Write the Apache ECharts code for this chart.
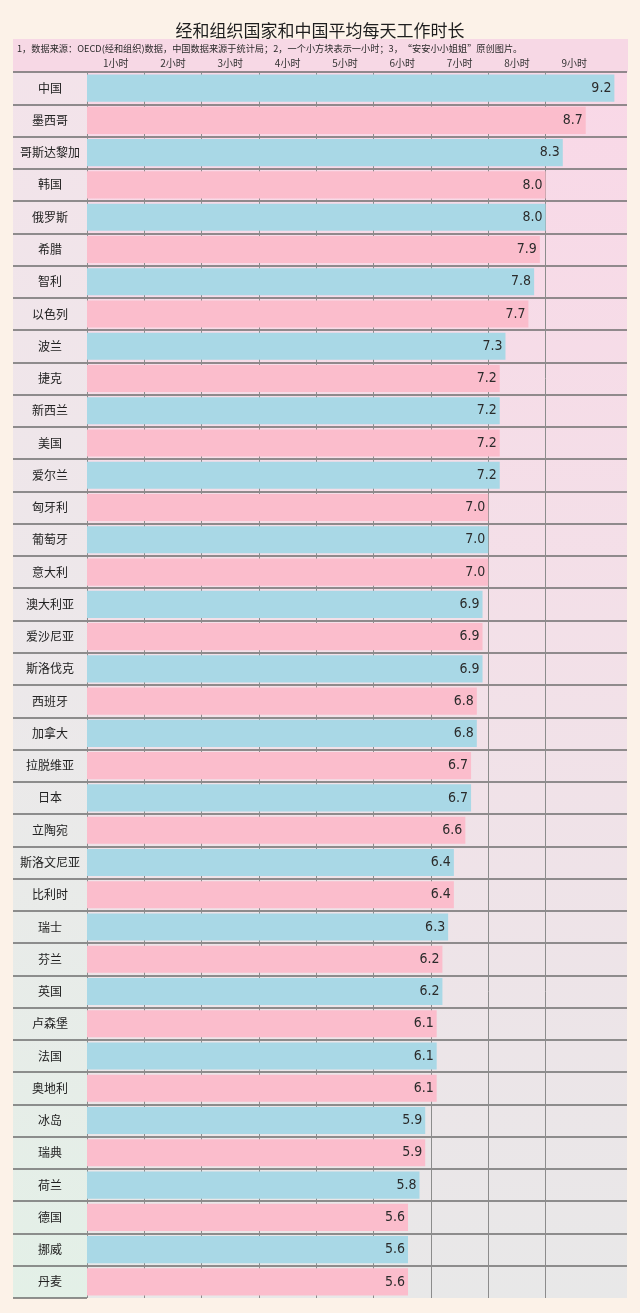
<!DOCTYPE html>
<html>
<head>
<meta charset="utf-8">
<script src="https://cdn.jsdelivr.net/npm/echarts@6/dist/echarts.min.js"></script>
<style>
html,body{margin:0;padding:0;background:#fcf2e8;}
#chart{width:640px;height:1313px;}
</style>
</head>
<body>
<div id="chart"></div>
<script>
const countries = ['中国','墨西哥','哥斯达黎加','韩国','俄罗斯','希腊','智利','以色列','波兰','捷克','新西兰','美国','爱尔兰','匈牙利','葡萄牙','意大利','澳大利亚','爱沙尼亚','斯洛伐克','西班牙','加拿大','拉脱维亚','日本','立陶宛','斯洛文尼亚','比利时','瑞士','芬兰','英国','卢森堡','法国','奥地利','冰岛','瑞典','荷兰','德国','挪威','丹麦'];
const hours = [9.2,8.7,8.3,8.0,8.0,7.9,7.8,7.7,7.3,7.2,7.2,7.2,7.2,7.0,7.0,7.0,6.9,6.9,6.9,6.8,6.8,6.7,6.7,6.6,6.4,6.4,6.3,6.2,6.2,6.1,6.1,6.1,5.9,5.9,5.8,5.6,5.6,5.6];
const hourLabels = ['1小时','2小时','3小时','4小时','5小时','6小时','7小时','8小时','9小时'];
const titleText = '经和组织国家和中国平均每天工作时长';
const noteText = '1，数据来源：OECD(经和组织)数据，中国数据来源于统计局；2，一个小方块表示一小时；3，“安安小小姐姐”原创图片。';

const BLUE = '#a9d8e6', PINK = '#fbbdcc';
const CJK = "'Noto Sans CJK SC', sans-serif";
const GRIDC = '#8c8c8c';
const chart = echarts.init(document.getElementById('chart'));
const G = echarts.graphic;

chart.setOption({
  backgroundColor: '#fcf2e8',
  animation: false,
  title: [
    { text: titleText, left: 'center', top: 17, textStyle: { fontFamily: CJK, fontSize: 17, fontWeight: 'normal', color: '#1e1e1e' } },
    { text: noteText, left: 12, top: 39, textStyle: { fontFamily: CJK, fontSize: 9.2, fontWeight: 'normal', color: '#2a2a2a' } }
  ],
  graphic: [
    { type: 'rect', z: -10, shape: { x: 13, y: 39, width: 615, height: 33 }, style: { fill: '#f7d8e5' } },
    { type: 'rect', z: -10, shape: { x: 13, y: 72, width: 74, height: 1226 },
      style: { fill: new G.LinearGradient(0, 0, 0, 1, [{ offset: 0, color: '#f3e3ea' }, { offset: 0.5, color: '#ece8ea' }, { offset: 1, color: '#e3f0e7' }]) } }
  ],
  grid: {
    left: 87, right: 13, top: 72, bottom: 15, show: true, borderWidth: 0,
    backgroundColor: new G.LinearGradient(0, 0, 0, 1, [{ offset: 0, color: '#f9d8e7' }, { offset: 0.45, color: '#f3e0e8' }, { offset: 1, color: '#e8e8e8' }])
  },
  xAxis: [
    { type: 'value', min: 0, max: 9.42, interval: 1, position: 'bottom',
      axisLine: { show: false }, axisTick: { show: false }, axisLabel: { show: false },
      splitLine: { show: true, showMaxLine: false,
        lineStyle: { color: [GRIDC, GRIDC, GRIDC, GRIDC, GRIDC, GRIDC, GRIDC, GRIDC, GRIDC, 'rgba(0,0,0,0)', 'rgba(0,0,0,0)'], width: 1 } } },
    { type: 'value', min: 0, max: 9.42, interval: 0.5, position: 'top',
      axisLine: { show: false }, axisTick: { show: false }, splitLine: { show: false },
      axisLabel: { margin: 4, fontFamily: CJK, fontSize: 10, color: '#333',
        formatter: v => { const k = Math.round(v * 2); return k % 2 === 1 ? (hourLabels[(k - 1) / 2] || '') : ''; } } }
  ],
  yAxis: {
    type: 'category', data: countries, inverse: true,
    axisLine: { show: false },
    axisTick: { show: true, length: 74, lineStyle: { color: '#6e6e6e', width: 1.5 } },
    splitLine: { show: true, showMaxLine: false, lineStyle: { color: '#6e6e6e', width: 1.5 } },
    axisLabel: { align: 'center', margin: 37, fontFamily: CJK, fontSize: 12, color: '#222' }
  },
  series: [{
    type: 'bar', xAxisIndex: 0, data: hours, barCategoryGap: '16%',
    itemStyle: { color: p => (p.dataIndex % 2 ? PINK : BLUE) },
    label: { show: true, position: 'insideRight', distance: 3,
      fontFamily: "'Liberation Sans Narrow', 'DejaVu Sans Condensed', sans-serif", fontSize: 14, color: '#2b2b2b',
      formatter: p => p.value.toFixed(1) }
  }]
});
</script>
</body>
</html>
